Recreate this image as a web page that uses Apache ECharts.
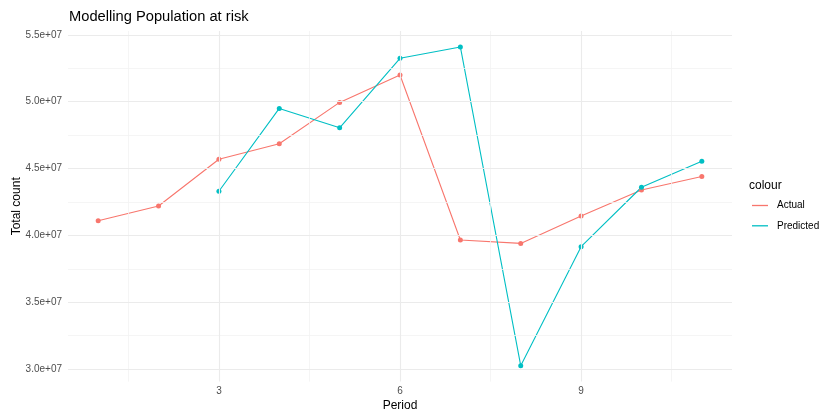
<!DOCTYPE html>
<html><head><meta charset="utf-8">
<script src="https://cdn.jsdelivr.net/npm/echarts@6/dist/echarts.min.js"></script>
<style>html,body{margin:0;padding:0;background:#fff}#c{width:820px;height:414px}</style>
</head><body><div id="c"></div>
<script>
const periods = [1,2,3,4,5,6,7,8,9,10,11];
const actual = [41100000,42200000,45700000,46850000,49950000,52000000,39650000,39400000,41450000,43400000,44400000];
const predPeriods = [3,4,5,6,7,8,9,10,11];
const predicted = [43300000,49500000,48050000,53250000,54100000,30250000,39150000,43600000,45550000];
const yMajor = [30000000,35000000,40000000,45000000,50000000,55000000];
const yMinor = [32500000,37500000,42500000,47500000,52500000];
const xMajor = [3,6,9];
const xMinor = [1.5,4.5,7.5,10.5];

const allY = actual.concat(predicted);
const yLo = Math.min(...allY), yHi = Math.max(...allY), yPad = (yHi-yLo)*0.05;
const xLo = Math.min(...periods), xHi = Math.max(...periods);

const font = '"Liberation Sans", Arial, sans-serif';
const majorStyle = {color:'#ebebeb', width:1.1, type:'solid'};
const minorStyle = {color:'#f2f2f2', width:0.8, type:'solid'};
const gridLines = []
  .concat(yMinor.map(v=>({yAxis:v, lineStyle:minorStyle})))
  .concat(xMinor.map(v=>({xAxis:v, lineStyle:minorStyle})))
  .concat(yMajor.map(v=>({yAxis:v, lineStyle:majorStyle})))
  .concat(xMajor.map(v=>({xAxis:v, lineStyle:majorStyle})));

const chart = echarts.init(document.getElementById('c'), null, {renderer:'canvas'});
chart.setOption({
  animation:false,
  backgroundColor:'#fff',
  textStyle:{fontFamily:font},
  title:[
    {text:'Modelling Population at risk', left:64, top:4, textStyle:{fontSize:14.7, fontWeight:'normal', color:'#000', fontFamily:font}},
    {text:'colour', left:744, top:175, textStyle:{fontSize:12, fontWeight:'normal', color:'#000', fontFamily:font}}
  ],
  legend:{
    data:['Actual','Predicted'], orient:'vertical', left:747, top:195.5,
    icon:'rect', itemWidth:16, itemHeight:1.3, itemGap:10.3,
    textStyle:{fontSize:10, color:'#000', fontFamily:font, padding:[0,0,0,4]}
  },
  grid:{left:68, right:88, top:31, bottom:32.4, containLabel:false, outerBoundsMode:'none'},
  xAxis:{
    type:'value', min:xLo-0.5, max:xHi+0.5, interval:0.5,
    name:'Period', nameLocation:'middle', nameGap:18.5, nameMoveOverlap:false,
    nameTextStyle:{fontSize:12, color:'#000', fontFamily:font},
    axisLine:{show:false}, axisTick:{show:false}, splitLine:{show:false},
    axisLabel:{margin:5, fontSize:10, color:'#4d4d4d', fontFamily:font,
      formatter:v=> xMajor.includes(v) ? String(v) : ''}
  },
  yAxis:{
    type:'value', min:yLo-yPad, max:yHi+yPad,
    name:'Total count', nameLocation:'middle', nameGap:45, nameRotate:90, nameMoveOverlap:false,
    nameTextStyle:{fontSize:12, color:'#000', fontFamily:font},
    axisLine:{show:false}, axisTick:{show:false, customValues:yMajor}, splitLine:{show:false},
    axisLabel:{margin:6, fontSize:10, color:'#4d4d4d', fontFamily:font, customValues:yMajor,
      formatter:v=> (v/1e7).toFixed(1)+'e+07'}
  },
  series:[
    {name:'grid', type:'line', data:[], z:1, silent:true,
     markLine:{silent:true, symbol:'none', label:{show:false}, animation:false, data:gridLines}},
    {name:'Actual', type:'line', z:3, color:'#F8766D', data:periods.map((p,i)=>[p,actual[i]]),
     symbol:'circle', symbolSize:5, lineStyle:{width:1.1}},
    {name:'Predicted', type:'line', z:3, color:'#00BFC4', data:predPeriods.map((p,i)=>[p,predicted[i]]),
     symbol:'circle', symbolSize:5, lineStyle:{width:1.1}}
  ]
});
</script></body></html>
